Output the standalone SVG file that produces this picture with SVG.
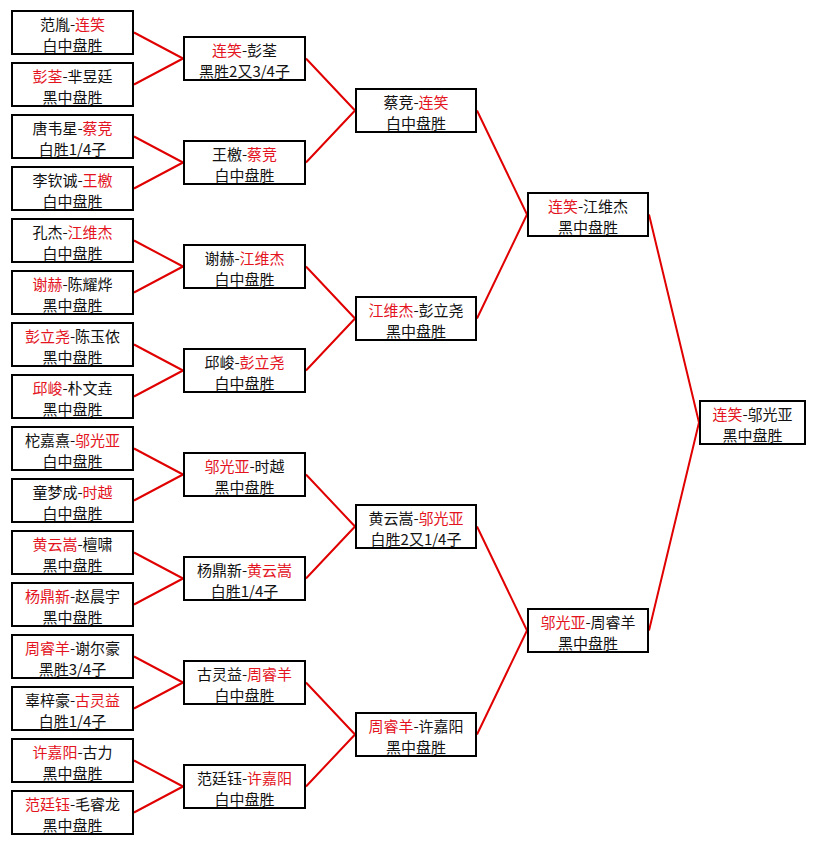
<svg xmlns="http://www.w3.org/2000/svg" width="816" height="845" viewBox="0 0 816 845">
<style>
.bg{fill:#ffffff}
.box{fill:#ffffff;stroke:#000000;stroke-width:2}
.t{font-family:"Noto Sans CJK SC",sans-serif;font-size:15px;fill:#111111;text-anchor:middle}
.r{fill:#e3141e}
.c{stroke:#e00000;stroke-width:2;fill:none}
</style>
<rect class="bg" x="0" y="0" width="816" height="845"/>
<g id="connectors">
<path class="c" d="M134 32.5L183 58.5M134 84.5L183 58.5M134 136.5L183 162.5M134 188.5L183 162.5M134 240.5L183 266.5M134 292.5L183 266.5M134 344.5L183 370.5M134 396.5L183 370.5M134 448.5L183 474.5M134 500.5L183 474.5M134 552.5L183 578.5M134 604.5L183 578.5M134 656.5L183 682.5M134 708.5L183 682.5M134 760.5L183 786.5M134 812.5L183 786.5"/>
<path class="c" d="M306 58.5L355 110.5M306 162.5L355 110.5M306 266.5L355 318.5M306 370.5L355 318.5M306 474.5L355 526.5M306 578.5L355 526.5M306 682.5L355 734.5M306 786.5L355 734.5"/>
<path class="c" d="M477 110.5L527 214.5M477 318.5L527 214.5M477 526.5L527 630.5M477 734.5L527 630.5"/>
<path class="c" d="M649 214.5L699 422.5M649 630.5L699 422.5"/>
</g>
<g id="r1_1"><rect class="box" x="12" y="11" width="121" height="43"/><text class="t" x="72.5" y="30">范胤-<tspan class="r">连笑</tspan></text><text class="t" x="72.5" y="50.5">白中盘胜</text></g>
<g id="r1_2"><rect class="box" x="12" y="63" width="121" height="43"/><text class="t" x="72.5" y="82"><tspan class="r">彭荃</tspan>-芈昱廷</text><text class="t" x="72.5" y="102.5">黑中盘胜</text></g>
<g id="r1_3"><rect class="box" x="12" y="115" width="121" height="43"/><text class="t" x="72.5" y="134">唐韦星-<tspan class="r">蔡竞</tspan></text><text class="t" x="72.5" y="154.5">白胜1/4子</text></g>
<g id="r1_4"><rect class="box" x="12" y="167" width="121" height="43"/><text class="t" x="72.5" y="186">李钦诚-<tspan class="r">王檄</tspan></text><text class="t" x="72.5" y="206.5">白中盘胜</text></g>
<g id="r1_5"><rect class="box" x="12" y="219" width="121" height="43"/><text class="t" x="72.5" y="238">孔杰-<tspan class="r">江维杰</tspan></text><text class="t" x="72.5" y="258.5">白中盘胜</text></g>
<g id="r1_6"><rect class="box" x="12" y="271" width="121" height="43"/><text class="t" x="72.5" y="290"><tspan class="r">谢赫</tspan>-陈耀烨</text><text class="t" x="72.5" y="310.5">黑中盘胜</text></g>
<g id="r1_7"><rect class="box" x="12" y="323" width="121" height="43"/><text class="t" x="72.5" y="342"><tspan class="r">彭立尧</tspan>-陈玉侬</text><text class="t" x="72.5" y="362.5">黑中盘胜</text></g>
<g id="r1_8"><rect class="box" x="12" y="375" width="121" height="43"/><text class="t" x="72.5" y="394"><tspan class="r">邱峻</tspan>-朴文垚</text><text class="t" x="72.5" y="414.5">黑中盘胜</text></g>
<g id="r1_9"><rect class="box" x="12" y="427" width="121" height="43"/><text class="t" x="72.5" y="446">柁嘉熹-<tspan class="r">邬光亚</tspan></text><text class="t" x="72.5" y="466.5">白中盘胜</text></g>
<g id="r1_10"><rect class="box" x="12" y="479" width="121" height="43"/><text class="t" x="72.5" y="498">童梦成-<tspan class="r">时越</tspan></text><text class="t" x="72.5" y="518.5">白中盘胜</text></g>
<g id="r1_11"><rect class="box" x="12" y="531" width="121" height="43"/><text class="t" x="72.5" y="550"><tspan class="r">黄云嵩</tspan>-檀啸</text><text class="t" x="72.5" y="570.5">黑中盘胜</text></g>
<g id="r1_12"><rect class="box" x="12" y="583" width="121" height="43"/><text class="t" x="72.5" y="602"><tspan class="r">杨鼎新</tspan>-赵晨宇</text><text class="t" x="72.5" y="622.5">黑中盘胜</text></g>
<g id="r1_13"><rect class="box" x="12" y="635" width="121" height="43"/><text class="t" x="72.5" y="654"><tspan class="r">周睿羊</tspan>-谢尔豪</text><text class="t" x="72.5" y="674.5">黑胜3/4子</text></g>
<g id="r1_14"><rect class="box" x="12" y="687" width="121" height="43"/><text class="t" x="72.5" y="706">辜梓豪-<tspan class="r">古灵益</tspan></text><text class="t" x="72.5" y="726.5">白胜1/4子</text></g>
<g id="r1_15"><rect class="box" x="12" y="739" width="121" height="43"/><text class="t" x="72.5" y="758"><tspan class="r">许嘉阳</tspan>-古力</text><text class="t" x="72.5" y="778.5">黑中盘胜</text></g>
<g id="r1_16"><rect class="box" x="12" y="791" width="121" height="43"/><text class="t" x="72.5" y="810"><tspan class="r">范廷钰</tspan>-毛睿龙</text><text class="t" x="72.5" y="830.5">黑中盘胜</text></g>
<g id="r2_1"><rect class="box" x="184" y="37" width="121" height="43"/><text class="t" x="244.5" y="56"><tspan class="r">连笑</tspan>-彭荃</text><text class="t" x="244.5" y="76.5">黑胜2又3/4子</text></g>
<g id="r2_2"><rect class="box" x="184" y="141" width="121" height="43"/><text class="t" x="244.5" y="160">王檄-<tspan class="r">蔡竞</tspan></text><text class="t" x="244.5" y="180.5">白中盘胜</text></g>
<g id="r2_3"><rect class="box" x="184" y="245" width="121" height="43"/><text class="t" x="244.5" y="264">谢赫-<tspan class="r">江维杰</tspan></text><text class="t" x="244.5" y="284.5">白中盘胜</text></g>
<g id="r2_4"><rect class="box" x="184" y="349" width="121" height="43"/><text class="t" x="244.5" y="368">邱峻-<tspan class="r">彭立尧</tspan></text><text class="t" x="244.5" y="388.5">白中盘胜</text></g>
<g id="r2_5"><rect class="box" x="184" y="453" width="121" height="43"/><text class="t" x="244.5" y="472"><tspan class="r">邬光亚</tspan>-时越</text><text class="t" x="244.5" y="492.5">黑中盘胜</text></g>
<g id="r2_6"><rect class="box" x="184" y="557" width="121" height="43"/><text class="t" x="244.5" y="576">杨鼎新-<tspan class="r">黄云嵩</tspan></text><text class="t" x="244.5" y="596.5">白胜1/4子</text></g>
<g id="r2_7"><rect class="box" x="184" y="661" width="121" height="43"/><text class="t" x="244.5" y="680">古灵益-<tspan class="r">周睿羊</tspan></text><text class="t" x="244.5" y="700.5">白中盘胜</text></g>
<g id="r2_8"><rect class="box" x="184" y="765" width="121" height="43"/><text class="t" x="244.5" y="784">范廷钰-<tspan class="r">许嘉阳</tspan></text><text class="t" x="244.5" y="804.5">白中盘胜</text></g>
<g id="r3_1"><rect class="box" x="356" y="89" width="120" height="43"/><text class="t" x="416" y="108">蔡竞-<tspan class="r">连笑</tspan></text><text class="t" x="416" y="128.5">白中盘胜</text></g>
<g id="r3_2"><rect class="box" x="356" y="297" width="120" height="43"/><text class="t" x="416" y="316"><tspan class="r">江维杰</tspan>-彭立尧</text><text class="t" x="416" y="336.5">黑中盘胜</text></g>
<g id="r3_3"><rect class="box" x="356" y="505" width="120" height="43"/><text class="t" x="416" y="524">黄云嵩-<tspan class="r">邬光亚</tspan></text><text class="t" x="416" y="544.5">白胜2又1/4子</text></g>
<g id="r3_4"><rect class="box" x="356" y="713" width="120" height="43"/><text class="t" x="416" y="732"><tspan class="r">周睿羊</tspan>-许嘉阳</text><text class="t" x="416" y="752.5">黑中盘胜</text></g>
<g id="r4_1"><rect class="box" x="528" y="193" width="120" height="43"/><text class="t" x="588" y="212"><tspan class="r">连笑</tspan>-江维杰</text><text class="t" x="588" y="232.5">黑中盘胜</text></g>
<g id="r4_2"><rect class="box" x="528" y="609" width="120" height="43"/><text class="t" x="588" y="628"><tspan class="r">邬光亚</tspan>-周睿羊</text><text class="t" x="588" y="648.5">黑中盘胜</text></g>
<g id="final"><rect class="box" x="700" y="401" width="105" height="43"/><text class="t" x="752.5" y="420"><tspan class="r">连笑</tspan>-邬光亚</text><text class="t" x="752.5" y="440.5">黑中盘胜</text></g>
</svg>
